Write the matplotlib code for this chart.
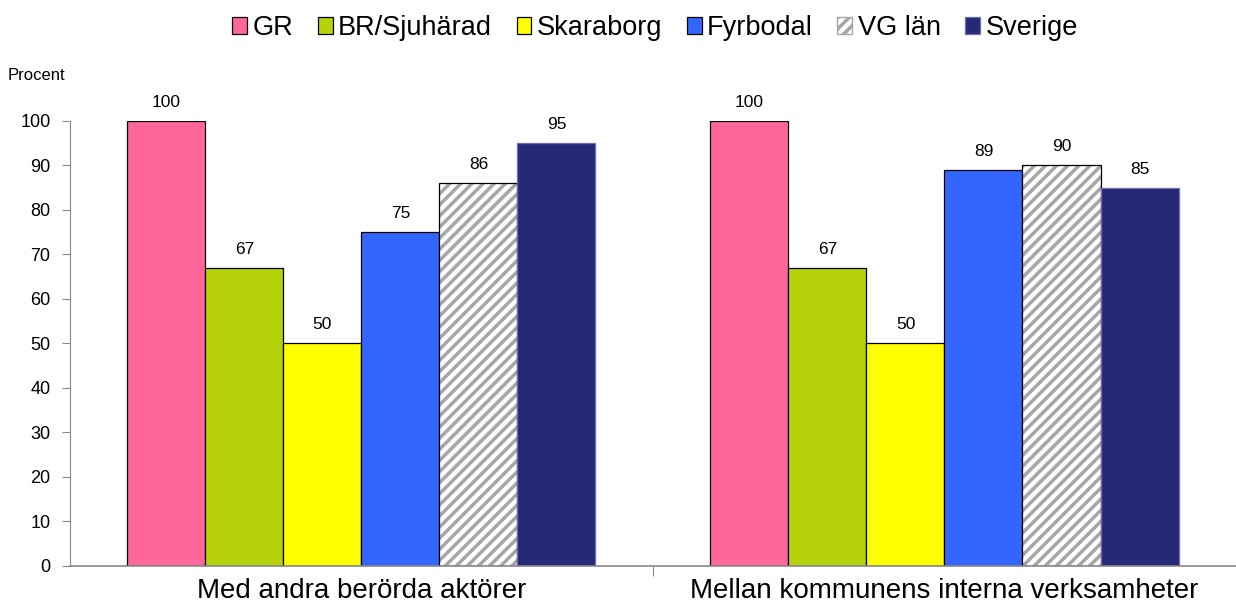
import numpy as np
import matplotlib.pyplot as plt
from matplotlib.patches import Patch

plt.rcParams['font.family'] = ['Liberation Sans', 'DejaVu Sans']
plt.rcParams['hatch.linewidth'] = 2.5

categories = ['Med andra berörda aktörer', 'Mellan kommunens interna verksamheter']
series = ['GR', 'BR/Sjuhärad', 'Skaraborg', 'Fyrbodal', 'VG län', 'Sverige']
values = {
    'GR': [100, 100],
    'BR/Sjuhärad': [67, 67],
    'Skaraborg': [50, 50],
    'Fyrbodal': [75, 89],
    'VG län': [86, 90],
    'Sverige': [95, 85],
}
colors = ['#FF6699', '#B5D20A', '#FFFF00', '#3366FF', 'white', '#262878']
yticks = list(range(0, 101, 10))

fig = plt.figure(figsize=(12.36, 6.12), dpi=100)
ax = fig.add_axes([0.0566, 0.0752, 0.9434, 0.7271])

n = len(series)
width = 0.1338
x = np.arange(len(categories))
handles = []
for i, name in enumerate(series):
    pos = x - width * n / 2 + width * (i + 0.5)
    vals = values[name]
    if name == 'VG län':
        ax.bar(pos, vals, width, color='white', edgecolor='#A6A6A6',
               hatch='///', linewidth=0)
        ax.bar(pos, vals, width, fill=False, edgecolor='black', linewidth=0.9)
        handles.append(Patch(facecolor='white', edgecolor='#A6A6A6', hatch='///'))
    else:
        ec = '#6E6EAA' if name == 'Sverige' else 'black'
        ax.bar(pos, vals, width, color=colors[i], edgecolor=ec, linewidth=0.9)
        handles.append(Patch(facecolor=colors[i], edgecolor=ec, linewidth=0.9))
    for p, v in zip(pos, vals):
        ax.text(p, v + 2.5, str(v), ha='center', va='bottom', fontsize=12.5, clip_on=False)

ax.set_xlim(-0.5, 1.5)
ax.set_ylim(0, 100)
ax.set_yticks(yticks)
ax.set_yticklabels([str(t) for t in yticks], fontsize=13)
ax.set_xticks([0.5])
ax.set_xticklabels([''])
ax.tick_params(axis='x', length=7, color='#888888', direction='out')
ax.tick_params(axis='y', length=6, color='#888888', pad=8)
for i, c in enumerate(categories):
    ax.text(x[i], -0.028, c, transform=ax.get_xaxis_transform(), ha='center', va='top',
            fontsize=20)
for side in ['top', 'right']:
    ax.spines[side].set_visible(False)
ax.spines['left'].set_color('#888888')
ax.spines['bottom'].set_color('#888888')
ax.spines['bottom'].set_linewidth(1.2)

fig.text(0.0065, 0.865, 'Procent', fontsize=12, ha='left', va='bottom')

fig.legend(handles, series, loc='upper center', bbox_to_anchor=(0.53, 1.015), ncol=6,
           frameon=False, fontsize=19.5, handlelength=0.55, handleheight=0.55,
           handletextpad=0.2, columnspacing=0.9)

fig.savefig('out.png', dpi=100)
